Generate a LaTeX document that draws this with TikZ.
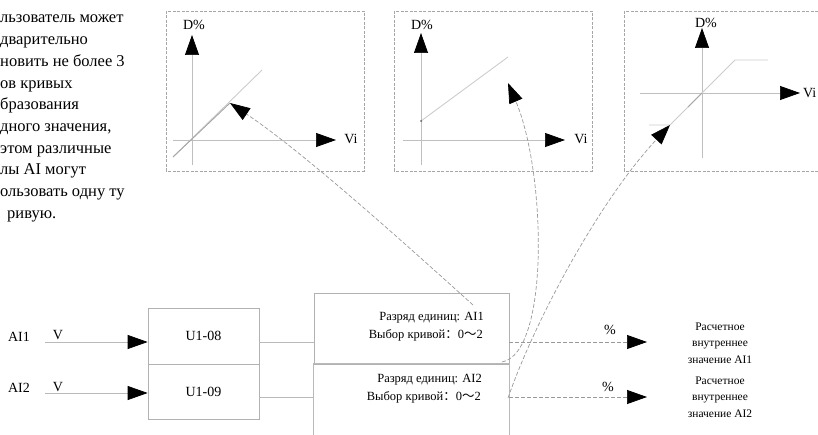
\documentclass[tikz,border=0pt]{standalone}
\usepackage{fontspec}
\setmainfont{Liberation Serif}
\newfontfamily\cjk{Noto Sans CJK SC}
\usetikzlibrary{arrows.meta}
\begin{document}
\begin{tikzpicture}[x=1pt,y=-1pt,
  >={Triangle[length=20pt,width=14pt,color=black]},
  panel/.style={draw=gray!70, dash pattern=on 3pt off 1.5pt, line width=0.6pt},
  axis/.style={draw=gray!50, line width=0.7pt, ->},
  curve/.style={draw=gray!40, line width=0.9pt},
  wire/.style={draw=gray!55, line width=0.7pt},
  link/.style={draw=gray!80, dash pattern=on 4pt off 2pt, line width=0.7pt, ->},
  box/.style={draw=gray!60, line width=0.7pt, inner sep=0pt},
  note/.style={inner sep=0pt, anchor=base west, font=\fontsize{16.5}{18}\selectfont},
  lbl/.style={inner sep=0pt, font=\fontsize{14}{16}\selectfont},
  small/.style={inner sep=0pt, font=\fontsize{12.5}{15}\selectfont},
  result/.style={inner sep=0pt, align=center, font=\fontsize{11.5}{16.5}\selectfont}]
\useasboundingbox (0,0) rectangle (818,435);
\clip (0,0) rectangle (818,435);

% note on the left
\foreach \line [count=\i] in {льзователь может, дварительно, новить не более 3,
    ов кривых, бразования, {дного значения,}, этом различные, лы AI могут,
    ользовать одну ту, {\hspace{7pt}ривую.}}
  \node[note] (note\i) at (0,{23+21.7*(\i-1)}) {\line};

% curve panels
\draw[panel] (166,11) rectangle (364,171);
\draw[panel] (394,11) rectangle (592,171);
\draw[panel] (624,11) rectangle (840,171);

% panel 1
\coordinate (o1) at (192,140);
\draw[axis] (192,165) -- (192,35);
\draw[axis] (173,140) -- (336,140);
\node[lbl] (d1) at (194,25) {D\%};
\node[lbl] (v1) at (351,139) {Vi};
\coordinate (k1) at (230,103);
\draw[curve] (173,157) -- (262,70);
\draw[draw=gray!70, line width=0.9pt] (173,157) -- (k1);

% panel 2
\draw[axis] (421,165) -- (421,33);
\draw[axis] (403,140) -- (565,140);
\node[lbl] (d2) at (422,25) {D\%};
\node[lbl] (v2) at (581,139) {Vi};
\coordinate (k2) at (508,83);
\draw[curve] (421,121) -- (508,57);
\fill[gray!70!black] (421,121) circle (1pt);

% panel 3
\draw[axis] (702,158) -- (702,28);
\draw[axis] (640,93) -- (800,93);
\node[lbl] (d3) at (706,23) {D\%};
\node[lbl, anchor=west] (v3) at (803,93) {Vi};
\coordinate (k3) at (670,125);
\draw[curve] (649,125) -- (k3) -- (735,60) -- (768,60);
\draw[draw=gray!70, line width=0.9pt] (688,107) -- (702,93);

% inputs
\node[lbl] (ai1) at (19,337) {AI1};
\node[lbl] (ai2) at (19,388) {AI2};
\node[lbl] (va1) at (58,335) {V};
\node[lbl] (va2) at (58,387) {V};
\coordinate (i1) at (45,342);
\coordinate (i2) at (45,393);
\coordinate (j2) at (260,397);

\node[box, minimum width=111pt, minimum height=56pt, font=\fontsize{14}{16}\selectfont] (u8) at (203.5,336) {U1-08};
\node[box, minimum width=111pt, minimum height=55pt, font=\fontsize{14}{16}\selectfont] (u9) at (203.5,391.5) {U1-09};
\draw[wire, ->] (i1) -- (i1 -| u8.west);
\draw[wire, ->] (i2) -- (i2 -| u9.west);

% selection box
\node[box, minimum width=195pt, minimum height=71pt] (bx1) at (411.5,328.5) {};
\node[inner sep=0pt, minimum width=195pt, minimum height=76pt] (bx2) at (411.5,402) {};
\draw[wire] (bx2.south west) -- (bx2.north west) -- (bx2.north east) -- (bx2.south east);
\draw[wire] (i1 -| u8.east) -- (i1 -| bx1.west);
\draw[wire] (j2 -| u9.east) -- (j2 -| bx2.west);

\node[small, anchor=east] (r1a) at (484,318) {Разряд единиц: AI1};
\node[small, anchor=east] (r1b) at (483,335) {Выбор кривой{\cjk ：}0{\cjk ～}2};
\node[small, anchor=east] (r2a) at (482,380) {Разряд единиц: AI2};
\node[small, anchor=east] (r2b) at (481,397) {Выбор кривой{\cjk ：}0{\cjk ～}2};

% results
\coordinate (e1) at (509,342);
\coordinate (e2) at (509,397);
\node[result] (out1) at (720,343) {Расчетное\\внутреннее\\значение AI1};
\node[result] (out2) at (720,397) {Расчетное\\внутреннее\\значение AI2};
\draw[link] (e1) -- (647,342);
\draw[link] (e2) -- (647,397);
\node[lbl] (p1) at (610,330) {\%};
\node[lbl] (p2) at (608,387) {\%};

% curve choice links
\coordinate (s1) at (473,305);
\coordinate (s2) at (502,362);
\coordinate (s3) at (508,398);
\draw[link] (s1) .. controls (390,230) and (300,150) .. (k1);
\draw[link] (s2) .. controls (550,353) and (546,172) .. (k2);
\draw[link] (s3) .. controls (535,320) and (600,200) .. (k3);
\end{tikzpicture}
\end{document}
